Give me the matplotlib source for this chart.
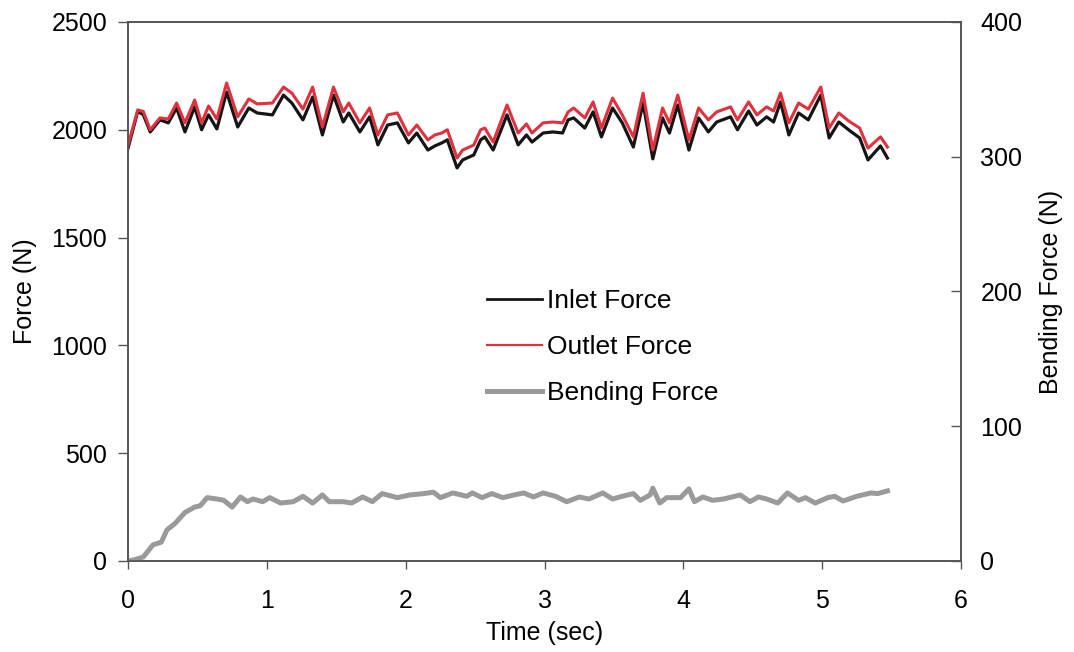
import matplotlib
matplotlib.use("Agg")
import matplotlib.pyplot as plt
from matplotlib.lines import Line2D

plt.rcParams['font.family'] = ['Liberation Sans', 'DejaVu Sans']

# Inlet / outlet force samples (N) vs time (s)
time_force = [0.00, 0.07, 0.11, 0.16, 0.23, 0.29, 0.35, 0.41, 0.48, 0.53,
              0.58, 0.64, 0.71, 0.79, 0.87, 0.93, 1.04, 1.12, 1.18, 1.26,
              1.33, 1.40, 1.48, 1.55, 1.59, 1.67, 1.74, 1.80, 1.87, 1.94,
              2.02, 2.08, 2.16, 2.21, 2.26, 2.30, 2.37, 2.41, 2.49, 2.54,
              2.57, 2.63, 2.73, 2.81, 2.87, 2.91, 2.99, 3.06, 3.13, 3.17,
              3.21, 3.29, 3.35, 3.41, 3.49, 3.56, 3.64, 3.71, 3.78, 3.85,
              3.90, 3.96, 4.04, 4.11, 4.18, 4.24, 4.34, 4.39, 4.47, 4.53,
              4.60, 4.65, 4.70, 4.76, 4.83, 4.90, 4.99, 5.05, 5.12, 5.19,
              5.27, 5.33, 5.42, 5.47]

outlet_force = [1929, 2092, 2085, 2000, 2055, 2050, 2124, 2032, 2138, 2032,
                2110, 2050, 2217, 2060, 2143, 2120, 2124, 2198, 2170, 2096,
                2198, 2013, 2198, 2083, 2124, 2032, 2101, 1976, 2069, 2078,
                1976, 2022, 1953, 1976, 1985, 2000, 1869, 1906, 1929, 2000,
                2008, 1943, 2115, 1985, 2027, 1985, 2032, 2036, 2032, 2083,
                2101, 2055, 2129, 2008, 2147, 2069, 1967, 2170, 1906, 2101,
                2032, 2161, 1953, 2101, 2046, 2083, 2106, 2046, 2129, 2069,
                2106, 2087, 2170, 2032, 2124, 2096, 2198, 2008, 2078, 2041,
                2008, 1915, 1967, 1920]

inlet_force = [1915, 2085, 2070, 1990, 2046, 2032, 2101, 1990, 2106, 2000,
               2069, 2004, 2175, 2013, 2101, 2078, 2069, 2161, 2124, 2046,
               2152, 1976, 2161, 2036, 2078, 1990, 2060, 1930, 2022, 2032,
               1939, 1985, 1906, 1925, 1939, 1953, 1823, 1860, 1883, 1953,
               1967, 1906, 2069, 1930, 1976, 1943, 1985, 1990, 1985, 2046,
               2055, 2008, 2083, 1967, 2101, 2032, 1920, 2124, 1865, 2055,
               1985, 2115, 1906, 2055, 1990, 2036, 2060, 2000, 2087, 2022,
               2060, 2036, 2129, 1976, 2078, 2046, 2161, 1962, 2036, 2000,
               1962, 1860, 1925, 1869]

# Bending force samples (N) vs time (s)
time_bend = [0.00, 0.05, 0.11, 0.18, 0.24, 0.28, 0.34, 0.41, 0.48, 0.52,
             0.57, 0.64, 0.69, 0.75, 0.81, 0.86, 0.90, 0.97, 1.02, 1.10,
             1.19, 1.26, 1.33, 1.40, 1.45, 1.55, 1.61, 1.69, 1.76, 1.83,
             1.94, 2.03, 2.13, 2.20, 2.25, 2.34, 2.44, 2.48, 2.55, 2.62,
             2.70, 2.78, 2.85, 2.92, 2.99, 3.08, 3.16, 3.25, 3.32, 3.42,
             3.49, 3.56, 3.64, 3.69, 3.76, 3.78, 3.83, 3.88, 3.98, 4.04,
             4.08, 4.14, 4.21, 4.29, 4.41, 4.48, 4.54, 4.60, 4.68, 4.75,
             4.83, 4.88, 4.95, 5.04, 5.09, 5.15, 5.25, 5.35, 5.40, 5.47]

bending_force = [0, 1, 3, 12, 14, 23, 28, 36, 40, 41,
                 47, 46, 45, 40, 47.5, 44, 46, 44, 47, 43,
                 44, 48, 43, 49, 44, 44, 43, 47.5, 44, 50,
                 47, 49, 50, 51, 47, 50.5, 48, 50.5, 47, 50,
                 47, 49, 50.5, 47.5, 50.5, 48, 44, 47.5, 46, 50.5,
                 46, 48, 50, 45, 49, 54, 43, 47, 47, 53.5,
                 44, 47.5, 45, 46, 49, 44, 47.5, 46, 43, 50.5,
                 45, 47, 43, 47, 48, 44.5, 48, 50.5, 50, 52]

x_ticks = [0, 1, 2, 3, 4, 5, 6]
left_ticks = [0, 500, 1000, 1500, 2000, 2500]
right_ticks = [0, 100, 200, 300, 400]

spine_col = '#555555'
black_col = '#151515'
red_col = '#e0323e'
gray_col = '#9a9a9a'

fig = plt.figure(figsize=(10.74, 6.52), dpi=100)
ax = fig.add_axes([0.1192, 0.1396, 0.8948 - 0.1192, 0.9663 - 0.1396])
ax2 = ax.twinx()

ax.plot(time_force, inlet_force, color=black_col, lw=2.3, solid_joinstyle='round')
ax.plot(time_force, outlet_force, color=red_col, lw=2.2, solid_joinstyle='round')
ax2.plot(time_bend, bending_force, color=gray_col, lw=3.6, solid_joinstyle='round')

ax.set_xlim(0, 6)
ax.set_ylim(0, 2500)
ax2.set_ylim(0, 400)
ax.set_xticks(x_ticks)
ax.set_yticks(left_ticks)
ax2.set_yticks(right_ticks)

for a in (ax, ax2):
    for s in a.spines.values():
        s.set_color(spine_col)
        s.set_linewidth(1.2)

ax.tick_params(axis='x', direction='out', length=6, width=1, color=spine_col,
               labelsize=18, pad=14)
ax.tick_params(axis='y', direction='out', length=7, width=1, color=spine_col,
               labelsize=18, pad=8)
ax2.tick_params(axis='y', direction='in', length=7, width=1, color=spine_col,
                labelsize=18, pad=14)

ax.set_xlabel('Time (sec)', fontsize=18, labelpad=6)
ax.set_ylabel('Force (N)', fontsize=18, labelpad=10)
ax2.set_ylabel('Bending Force (N)', fontsize=18, labelpad=12)

handles = [Line2D([], [], color=black_col, lw=2.0),
           Line2D([], [], color=red_col, lw=1.6),
           Line2D([], [], color=gray_col, lw=3.6)]
labels = ['Inlet Force', 'Outlet Force', 'Bending Force']
fig.legend(handles, labels, loc='upper left', bbox_to_anchor=(0.453, 0.556),
           frameon=False, fontsize=19, handlelength=2.1, handletextpad=0.2,
           labelspacing=0.82, borderpad=0, borderaxespad=0)

fig.savefig('out.png', dpi=100)
